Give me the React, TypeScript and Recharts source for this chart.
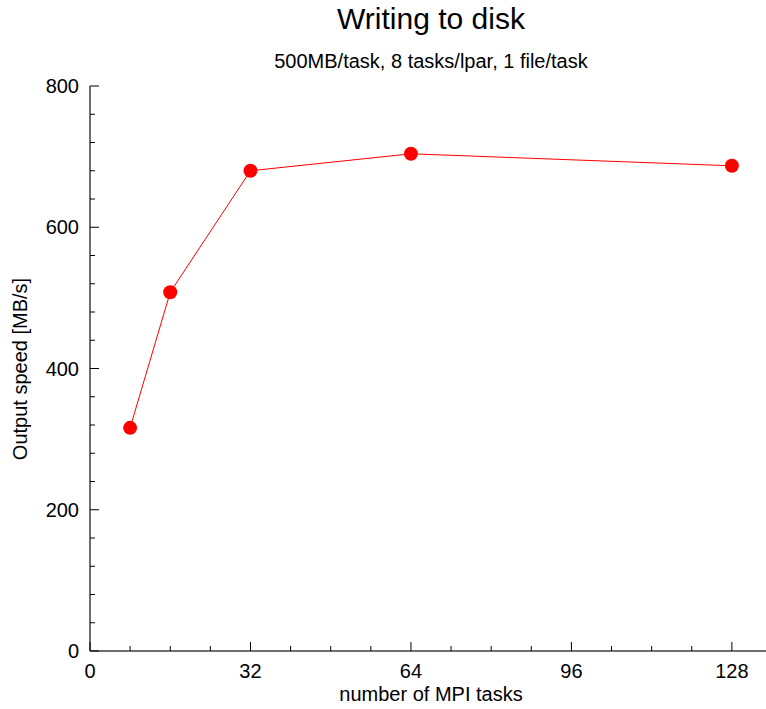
import React from 'react';
import { LineChart, Line, XAxis, YAxis } from 'recharts';

// number of MPI tasks vs. write speed
const taskCounts = [8, 16, 32, 64, 128];
const outputSpeed = [316, 508, 680, 704, 687];

const xTicks = [0, 8, 16, 24, 32, 40, 48, 56, 64, 72, 80, 88, 96, 104, 112, 120, 128, 136];
const xLabelTicks = [0, 32, 64, 96, 128];
const yTicks = [0, 40, 80, 120, 160, 200, 240, 280, 320, 360, 400, 440, 480, 520, 560, 600, 640, 680, 720, 760, 800];
const yLabelTicks = [0, 200, 400, 600, 800];

const data = taskCounts.map((tasks, i) => ({ tasks, speed: outputSpeed[i] }));

const FONT = '"Liberation Sans", Arial, Helvetica, sans-serif';
const FRAME = '#6e6e6e';

const BottomTick = (props: any) => {
  const { x, y, payload } = props;
  const major = xLabelTicks.includes(payload.value);
  return (
    <g>
      <line x1={x} y1={y} x2={x} y2={y - (major ? 9 : 5)} stroke="#000" strokeWidth={1} />
      {major && (
        <text x={x} y={y + 27} textAnchor="middle" fontSize={20} fontFamily={FONT} fill="#000">
          {payload.value}
        </text>
      )}
    </g>
  );
};

const TopTick = (props: any) => {
  const { x, y, payload } = props;
  const major = xLabelTicks.includes(payload.value);
  return <line x1={x} y1={y} x2={x} y2={y + (major ? 9 : 5)} stroke="#000" strokeWidth={1} />;
};

const LeftTick = (props: any) => {
  const { x, y, payload } = props;
  const major = yLabelTicks.includes(payload.value);
  return (
    <g>
      <line x1={x} y1={y} x2={x + (major ? 9 : 5)} y2={y} stroke="#000" strokeWidth={1} />
      {major && (
        <text x={x - 11} y={y + 7} textAnchor="end" fontSize={20} fontFamily={FONT} fill="#000">
          {payload.value}
        </text>
      )}
    </g>
  );
};

const RightTick = (props: any) => {
  const { x, y, payload } = props;
  const major = yLabelTicks.includes(payload.value);
  return <line x1={x} y1={y} x2={x - (major ? 9 : 5)} y2={y} stroke="#000" strokeWidth={1} />;
};

export default function App() {
  return (
    <div
      style={{
        position: 'absolute',
        left: 0,
        top: 0,
        width: 766,
        height: 709,
        overflow: 'hidden',
        background: '#fff',
        fontFamily: FONT,
        color: '#000',
      }}
    >
      <div style={{ position: 'absolute', left: 90, width: 682, top: 4, textAlign: 'center', fontSize: 30, lineHeight: 1 }}>
        Writing to disk
      </div>
      <div style={{ position: 'absolute', left: 90, width: 682, top: 51, textAlign: 'center', fontSize: 20, lineHeight: 1 }}>
        500MB/task, 8 tasks/lpar, 1 file/task
      </div>
      <div style={{ position: 'absolute', left: 90, width: 682, top: 686.5, height: 14, textAlign: 'center', fontSize: 20, lineHeight: '14px' }}>
        number of MPI tasks
      </div>
      <div
        style={{
          position: 'absolute',
          left: 20 - 150,
          top: 369 - 10,
          width: 300,
          height: 20,
          lineHeight: '20px',
          textAlign: 'center',
          fontSize: 20,
          transform: 'rotate(-90deg)',
        }}
      >
        Output speed [MB/s]
      </div>
      <div style={{ position: 'absolute', left: 0, top: 0 }}>
        <LineChart width={790} height={709} data={data} margin={{ top: 86, right: 18, bottom: 28, left: 40 }}>
          <XAxis
            type="number"
            dataKey="tasks"
            domain={[0, 136]}
            ticks={xTicks}
            interval={0}
            height={30}
            tickSize={0}
            tickMargin={0}
            tickLine={false}
            tick={<BottomTick />}
            axisLine={{ stroke: FRAME, strokeWidth: 2 }}
            allowDataOverflow
          />
          <XAxis
            xAxisId="top"
            orientation="top"
            type="number"
            dataKey="tasks"
            domain={[0, 136]}
            ticks={xTicks}
            interval={0}
            height={0}
            tickSize={0}
            tickMargin={0}
            tickLine={false}
            tick={<TopTick />}
            axisLine={{ stroke: FRAME, strokeWidth: 2 }}
            allowDataOverflow
          />
          <YAxis
            type="number"
            domain={[0, 800]}
            ticks={yTicks}
            interval={0}
            width={50}
            tickSize={0}
            tickMargin={0}
            tickLine={false}
            tick={<LeftTick />}
            axisLine={{ stroke: FRAME, strokeWidth: 2 }}
            allowDataOverflow
          />
          <YAxis
            yAxisId="right"
            orientation="right"
            type="number"
            domain={[0, 800]}
            ticks={yTicks}
            interval={0}
            width={0}
            tickSize={0}
            tickMargin={0}
            tickLine={false}
            tick={<RightTick />}
            axisLine={{ stroke: FRAME, strokeWidth: 2 }}
            allowDataOverflow
          />
          <Line
            type="linear"
            dataKey="speed"
            stroke="#ff0000"
            strokeWidth={1}
            dot={{ r: 7, fill: '#ff0000', stroke: 'none' }}
            activeDot={false}
            isAnimationActive={false}
          />
        </LineChart>
      </div>
    </div>
  );
}
